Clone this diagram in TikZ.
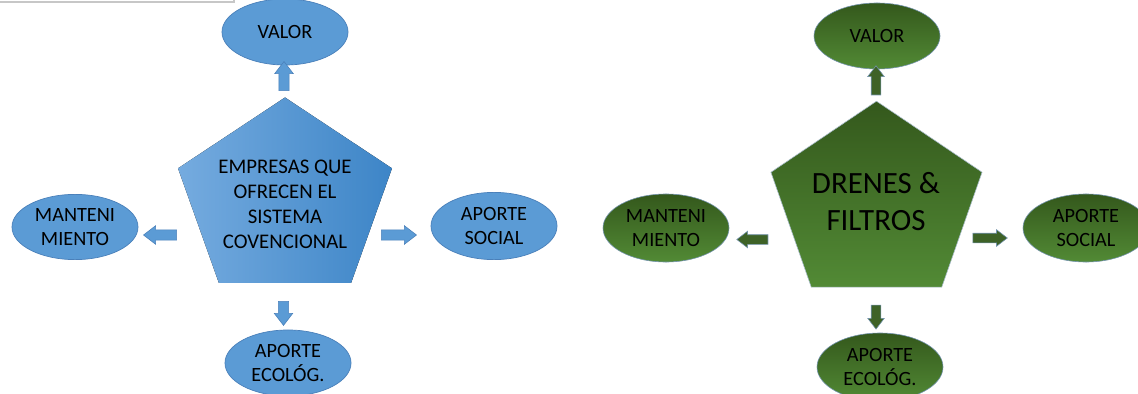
\documentclass[tikz,border=0pt]{standalone}
\usepackage{fontspec}
\setmainfont{Carlito}
\usepackage{tikz}
\usetikzlibrary{calc,shapes.geometric,shapes.arrows}
\definecolor{bluex}{HTML}{5B9BD5}
\definecolor{blueln}{HTML}{4A80BA}
\definecolor{bluelt}{HTML}{75ABDF}
\definecolor{bluedk}{HTML}{3D85C7}
\definecolor{greenx}{HTML}{3E6227}
\definecolor{greendk}{HTML}{34581C}
\definecolor{greenlt}{HTML}{528A35}
\definecolor{greenln}{HTML}{7393AE}

\begin{document}
\begin{tikzpicture}[x=0.025cm, y=-0.025cm,
  el/.style={ellipse, inner sep=0pt, align=center, minimum width=3.15cm, minimum height=1.65cm, font=\fontsize{14.4}{17.1}\selectfont},
  bel/.style={el, draw=blueln, line width=0.5pt, fill=bluex},
  gel/.style={el, draw=greenln, line width=0.4pt, top color=greendk, bottom color=greenlt},
  arw/.style={single arrow, single arrow tip angle=75, single arrow head indent=0pt},
  barr/.style={arw, draw=blueln, line width=0.4pt, fill=bluex, inner sep=3.5pt, single arrow head extend=2.9pt},
  garr/.style={arw, draw=greenln, line width=0.4pt, fill=greenx, inner sep=3.2pt, single arrow head extend=2.5pt}]
\clip (0,0) rectangle (1138,394);
% window edge at the top left
\draw[black!22, line width=0.8pt] (0,2) -- (234,2) -- (234,-2);
% left diagram
\coordinate (bc) at (285,200);
\foreach \k in {0,...,4} \coordinate (bp\k) at ($(bc)+(-90-72*\k:112.5 and 102.5)$);
\fill[left color=bluelt, right color=bluedk] (bp0) -- (bp1) -- (bp2) -- (bp3) -- (bp4) -- cycle;
\node[align=center, font=\fontsize{14.8}{17.8}\selectfont] (emp) at (285,204) {EMPRESAS QUE\\OFRECEN EL\\SISTEMA\\COVENCIONAL};
\node[bel] (bval) at (285,32) {VALOR};
\node[bel, minimum height=1.63cm] (bman) at (75,227) {MANTENI\\MIENTO};
\node[bel, minimum height=1.68cm] (bsoc) at (494,226) {APORTE\\SOCIAL};
\node[bel] (beco) at (288,363) {APORTE\\ECOLÓG.};
\node[barr, rotate=90, minimum height=0.73cm] (bua) at (284,79.5) {};
\node[barr, rotate=180, minimum height=0.83cm] (bla) at (163.5,235) {};
\node[barr, minimum height=0.88cm] (bra) at (395.5,235) {};
\node[barr, rotate=270, minimum height=0.6cm] (bda) at (283.5,310) {};
% right diagram
\coordinate (gc) at (876.5,204);
\foreach \k in {0,...,4} \coordinate (gp\k) at ($(gc)+(-90-72*\k:111 and 102.8)$);
\path[top color=greendk, bottom color=greenlt, draw=greenln!60, line width=0.4pt] (gp0) -- (gp1) -- (gp2) -- (gp3) -- (gp4) -- cycle;
\node[align=center, font=\fontsize{22}{26.3}\selectfont] (dren) at (876,201.5) {DRENES \&\\FILTROS};
\node[gel] (gval) at (877,36) {VALOR};
\node[gel, minimum height=1.7cm] (gman) at (666,228) {MANTENI\\MIENTO};
\node[gel, minimum height=1.7cm] (gsoc) at (1086,228) {APORTE\\SOCIAL};
\node[gel, minimum height=1.7cm] (geco) at (880,367) {APORTE\\ECOLÓG.};
\node[garr, rotate=90, minimum height=0.73cm] (gua) at (876,83.5) {};
\node[garr, rotate=180, minimum height=0.78cm] (gla) at (755.5,239.5) {};
\node[garr, minimum height=0.86cm] (gra) at (987,238) {};
\node[garr, rotate=270, minimum height=0.6cm] (gda) at (876,314) {};
\end{tikzpicture}
\end{document}
